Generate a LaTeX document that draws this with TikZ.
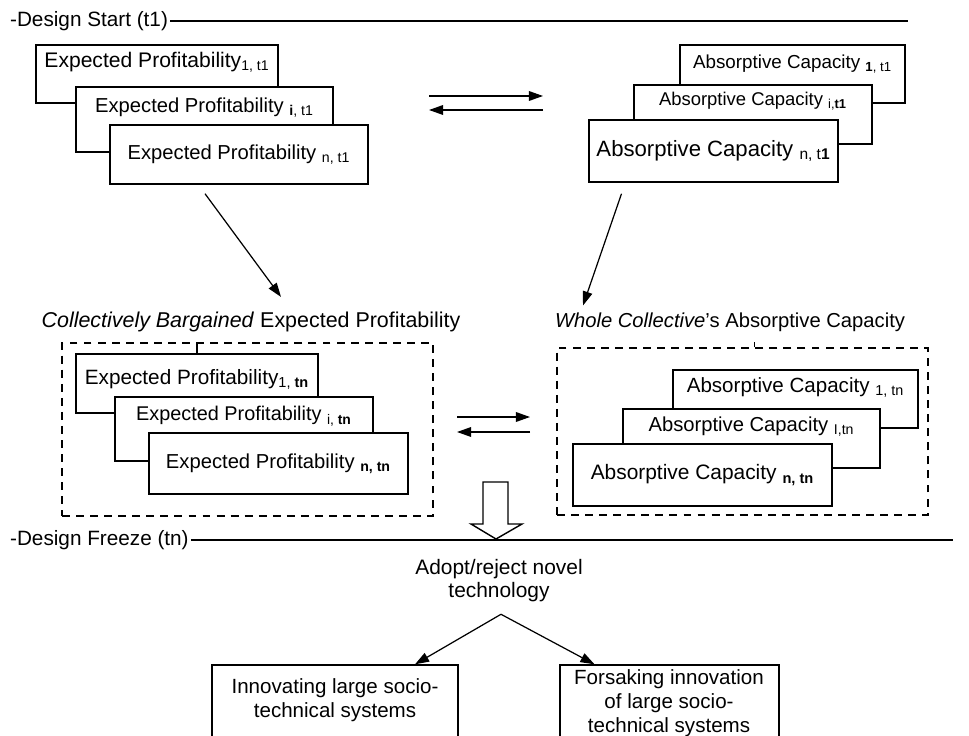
\documentclass[tikz,border=0pt]{standalone}
\usepackage{fontspec}
\setmainfont{Liberation Sans}
\usetikzlibrary{calc,fit,arrows.meta}

\tikzset{
  card/.style = {draw, fill=white, line width=0.8pt, inner sep=0pt},
  fenced/.style = {draw, dashed, dash pattern=on 4.5pt off 3.5pt, inner sep=0pt},
  boxtext/.style = {inner sep=0pt, font=\fontsize{#1}{#1}\selectfont},
  caption/.style = {inner sep=1pt, font=\fontsize{11.8}{13}\selectfont},
  timeline/.style = {line width=1.1pt},
  flow/.style = {-{Triangle[length=8pt,width=5.5pt]}, line width=0.7pt},
}
\newcommand{\sbs}[1]{\textsubscript{#1}}

\begin{document}
\begin{tikzpicture}[x=0.02cm, y=-0.02cm]
\useasboundingbox (0,0) rectangle (969,736);
\clip (0,0) rectangle (969,736);

%Design start line
\node[caption, anchor=west] (start) at (8,21) {-Design Start (t1)};
\coordinate (startend) at (908,21);
\draw[timeline] (start.east) -- (startend);

%Expected profitability at t1 (back to front)
\node[card, fit={(36,45) (278,103)}] (ep1) {};
\node[boxtext=12] (ep1t) at ($(ep1.north)+(0,18)$) {Expected Profitability\sbs{1, t1}};
\node[card, fit={(76,87) (333,152)}] (epi) {};
\node[boxtext=11.5] (epit) at ($(epi.north)+(0,21)$) {Expected Profitability \sbs{\textbf{i}, t1}};
\node[card, fit={(110,125) (368,184)}] (epn) {};
\node[boxtext=11.5] (epnt) at (epn) {Expected Profitability \sbs{n, t1}};

%Absorptive capacity at t1 (back to front)
\node[card, fit={(680,45) (905,103)}] (ac1) {};
\node[boxtext=10.7] (ac1t) at ($(ac1.north)+(0,20)$) {Absorptive Capacity \sbs{\textbf{1}, t1}};
\node[card, fit={(634,85) (872,144)}] (aci) {};
\node[boxtext=10.5] (acit) at ($(aci.north)+(0,17)$) {Absorptive Capacity \sbs{i,\textbf{t1}}};
\node[card, fit={(589,120) (838,182)}] (acn) {};
\node[boxtext=12.6] (acnt) at (acn) {Absorptive Capacity \sbs{n, t\textbf{1}}};

%exchange arrows at t1
\coordinate (swapA) at (429,96);
\coordinate (swapB) at (543,96);
\coordinate (swapC) at (429,110);
\coordinate (swapD) at (543,110);
\draw[flow] (swapA) -- (swapB);
\draw[flow] (swapD) -- (swapC);

%collective titles
\node[caption, font=\fontsize{12.2}{13}\selectfont] (bargt) at (251,322) {\textit{Collectively Bargained} Expected Profitability};
\node[caption, font=\fontsize{11.5}{13}\selectfont] (wholet) at (730,322) {\textit{Whole Collective}'s Absorptive Capacity};

%arrows down to the collective level
\draw[flow] ($(epn.south)+(-34,9)$) -- ($(bargt.north)+(30,-13)$);
\draw[flow] ($(acn.south)+(-92,11)$) -- ($(wholet.north)+(-147,-5)$);

%dashed groups
\node[fenced, line width=1pt, fit={(62,343) (433,516)}] (bargain) {};
\node[fenced, line width=0.8pt, fit={(557,348) (928,515)}] (whole) {};

%Expected profitability at tn
\draw[line width=0.8pt] (bargain.north -| 197,0) -- (197,354);
\node[card, fit={(76,354) (318,413)}] (ep1n) {};
\node[boxtext=11.8] (ep1nt) at ($(ep1n.north)+(0,26)$) {Expected Profitability\sbs{1, \textbf{tn}}};
\node[card, fit={(115,397) (373,461)}] (epin) {};
\node[boxtext=11.3] (epint) at ($(epin.north)+(0,20)$) {Expected Profitability \sbs{i, \textbf{tn}}};
\node[card, fit={(149,433) (408,494)}] (epnn) {};
\node[boxtext=11.5] (epnnt) at (epnn) {Expected Profitability \sbs{\textbf{n, tn}}};

%Absorptive capacity at tn
\draw[line width=0.8pt] ($(whole.north)+(12,0)$) -- ++(0,-5);
\node[card, fit={(673,370) (918,428)}] (ac1n) {};
\node[boxtext=11.7] (ac1nt) at ($(ac1n.north)+(0,18)$) {Absorptive Capacity \sbs{1, tn}};
\node[card, fit={(623,409) (880,468)}] (acin) {};
\node[boxtext=11.5] (acint) at ($(acin.north)+(0,18)$) {Absorptive Capacity \sbs{I,tn}};
\node[card, fit={(573,444) (832,506)}] (acnn) {};
\node[boxtext=11.9] (acnnt) at (acnn) {Absorptive Capacity \sbs{\textbf{n, tn}}};

%exchange arrows at tn
\coordinate (swapE) at (457,417);
\coordinate (swapF) at (530,417);
\coordinate (swapG) at (457,432);
\coordinate (swapH) at (530,432);
\draw[flow] (swapE) -- (swapF);
\draw[flow] (swapH) -- (swapG);

%hollow arrow down to the freeze
\draw[line width=0.8pt, fill=white] (483,482) -- (508,482) -- (508,524) -- (522,524)
  -- (496,539) -- (471,524) -- (483,524) -- cycle;

%Design freeze line
\node[caption, anchor=west] (freeze) at (8,540) {-Design Freeze (tn)};
\coordinate (freezeend) at (953,540);
\draw[timeline] (freeze.east) -- (freezeend);

%decision
\node[caption, align=center, font=\fontsize{11.9}{13}\selectfont] (adopt) at (499,581) {Adopt/reject novel\\technology};
\coordinate (fork) at ($(adopt.south)+(2,10)$);

\node[card, fit={(212,665) (458,760)}] (innov) {};
\node[caption, align=center, font=\fontsize{11.7}{13.6}\selectfont] (innovt) at (335,700) {Innovating large socio-\\technical systems};
\node[card, fit={(560,665) (779,760)}] (forsake) {};
\node[caption, align=center, font=\fontsize{11.7}{13.8}\selectfont] (forsaket) at (669,703) {Forsaking innovation\\of large socio-\\technical systems};

\draw[flow] (fork) -- ($(innov.north)+(80,0)$);
\draw[flow] (fork) -- ($(forsake.north)+(-75,0)$);

\end{tikzpicture}
\end{document}
